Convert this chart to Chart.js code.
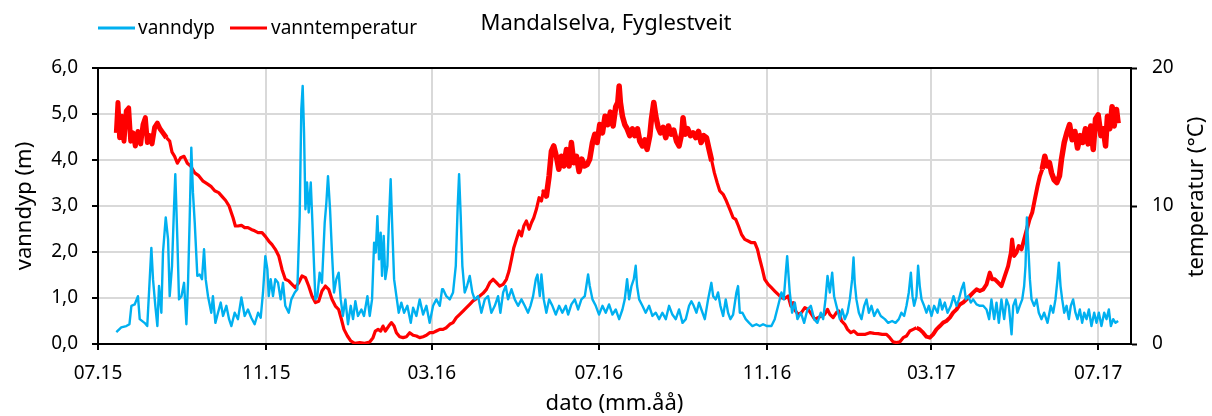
<!DOCTYPE html>
<html lang="no">
<head>
<meta charset="utf-8" />
<title>Mandalselva, Fyglestveit</title>
<script src="https://cdn.jsdelivr.net/npm/chart.js"></script>
<style>
  html, body { margin: 0; padding: 0; background: #fff; }
  #wrap { width: 1212px; height: 416px; }
</style>
</head>
<body>
<div id="wrap"><canvas id="chart" width="1212" height="416"></canvas></div>
<script>
// x = dager etter 01.07.2015
var tickDays = [0, 123, 244, 366, 489, 609, 731];
var tickLabels = ['07.15', '11.15', '03.16', '07.16', '11.16', '03.17', '07.17'];

// vanndyp (m)
var depthDay = [
  13.4,17,20.7,23,24.4,26.8,29.2,30.5,34,36,
  37.8,39,40.2,41.9,43.4,44.6,46.3,47.5,49.5,51.2,
  52.4,54.1,55.6,56.5,58,59.2,61,62.9,64.6,65.8,
  67,68.2,69.4,70.7,72.6,74.3,76,77.5,78.7,80.4,
  82.8,84,85.8,87.7,89.7,91.4,93.8,95.8,97.5,99.9,
  102.3,104.8,107.2,109.6,112,114.5,117,118.9,120.6,122.3,
  123.8,124.8,126.2,127.9,129.6,131.6,133.5,135.2,136.9,139.4,
  141.3,143.8,145.7,147.4,148.6,149.6,150.6,151.6,152.8,154,
  155.5,156.7,157.9,158.9,160.3,162,163.7,165.7,166.9,168.1,
  169.6,171,172.5,174.2,175.9,177.4,179,180.8,182.7,184.7,
  186.4,188.1,190,192.5,194.4,196.9,198.6,200.3,201.8,203,
  204.2,205.4,206.6,207.6,208.8,210,211.5,212.5,213.9,215.2,
  216.4,218.1,219.8,221.7,223.7,226.1,228.6,230.3,232.7,235.1,
  237.6,240,242.4,244.9,247.3,249.8,251.5,
  252.2,254.6,257.1,259.5,261.5,262.9,263.9,265.1,266.3,268,
  269.7,271.7,273.6,275.3,277.8,280.2,282.7,285.1,287.5,290,
  292.4,294.1,296.1,298,299.7,302.2,304.6,307,309.5,311.9,
  314.3,316.1,318,320,321.2,322.9,324.1,325.8,327.7,329.7,
  332.1,334.6,337,339.4,341.9,343.6,346,348.5,350.9,353.3,
  355.8,358.2,359.4,361.4,363.8,366.2,368.7,371.1,373.5,376,
  378.4,380.9,383.3,385,386.7,388.2,389.9,391.6,393,394,
  395.5,397.9,400.3,402.8,405.2,407.7,410.1,412.5,415,417.4,
  419.8,422.3,424.7,427.2,429.6,432,433.7,435.4,437.4,439.3,
  441,443.5,445.9,448.3,449.6,451.5,453.2,454.9,456.9,458.8,
  460.5,462.2,464.2,466.6,467.8,469.1,471,473.4,475.9,478.3,
  481.2,483.7,486.1,489,492.2,494.6,497.1,499.5,501.2,502.7,
  503.7,
  505.6,507.3,509.3,511.2,513.7,516.1,518.5,521,523.4,525.8,
  528.3,530,531.7,533.2,534.9,536.6,538,539.7,542.2,543.9,
  545.8,547.8,549.5,551.2,552.2,553.1,554.3,556.1,558,560,
  561.7,563.4,565.3,567.3,569.7,572.1,575.1,577.5,580.4,582.9,
  585.3,587.2,589.2,590.9,592.6,594.1,595.3,596.5,598.2,599.4,
  600.6,601.9,603.8,605.5,607.2,609.2,611.1,613.6,615.3,617,
  618.9,620.9,623.3,625.3,627.5,629.2,631.1,632.8,634.3,636,
  637.9,639.6,642.1,644.5,647,649.4,651.3,653,655,656.7,
  658.4,660.3,662.3,664,665.7,667.7,668.9,670.6,672,673.7,
  675.5,676.9,677.9,678.9,679.8,681.1,682.3,684.2,686,687.6,
  689.6,691.5,694,696.4,698.1,699.8,701.3,702.3,703.5,704.7,
  706.2,707.9,709.6,711,712.7,714.4,715.9,717.6,719.3,720.8,
  722.5,724.2,726.1,728.1,729.8,731.5,733.4,735.4,737.1,738.8,
  740.3,742,743.7,745.6
];
var depth = [
  0.26,0.36,0.39,0.43,0.83,0.86,1.04,0.54,0.46,0.39,
  1.41,2.09,1.41,0.83,0.39,1.26,0.68,1.99,2.75,2.28,
  1.04,1.7,3.0,3.69,2.28,0.97,1.04,1.33,0.43,1.33,
  2.71,4.27,3.29,2.64,1.48,1.51,1.41,2.06,1.41,1.04,
  0.68,1.04,0.46,0.68,0.9,0.61,0.83,0.54,0.39,0.68,
  0.54,1.01,0.61,0.75,0.57,0.43,0.68,0.57,1.12,1.91,
  1.62,1.04,1.41,1.04,1.41,1.33,0.97,1.33,0.83,0.68,
  0.97,1.12,1.19,2.78,5.1,5.61,4.59,2.93,3.51,2.86,
  3.51,2.64,1.7,0.97,1.04,1.55,1.33,2.64,3.07,3.65,
  2.93,1.99,1.12,1.41,1.55,0.97,0.61,0.97,0.43,0.83,
  0.54,0.93,0.61,0.75,0.61,1.04,0.61,0.97,2.2,1.99,
  2.78,1.84,2.42,1.48,2.35,1.41,1.7,2.57,3.58,2.42,
  1.41,1.04,0.68,0.9,0.68,0.83,0.46,0.79,0.61,0.97,
  0.64,0.83,0.46,0.83,0.97,0.83,1.19,
  1.19,1.04,0.97,1.12,1.7,3.0,3.69,2.78,1.7,1.12,
  1.26,1.48,1.12,0.97,1.04,0.68,0.97,1.04,0.68,0.83,
  1.04,0.68,1.12,1.26,0.97,1.19,0.97,0.83,0.97,0.83,
  0.68,0.83,1.04,1.41,1.51,1.04,1.51,0.97,0.68,0.97,
  0.83,0.64,0.83,0.68,0.83,0.64,0.86,0.97,0.75,0.97,
  1.04,1.51,1.26,0.97,0.83,0.64,0.83,0.68,0.86,0.64,
  0.75,0.54,0.75,0.97,1.41,0.97,1.26,1.41,1.7,1.26,
  0.97,0.83,0.68,0.83,0.61,0.68,0.54,0.68,0.54,0.83,
  0.64,0.54,0.75,0.46,0.54,0.83,0.93,0.83,0.68,0.9,
  0.75,0.54,0.97,1.33,1.04,0.97,1.12,0.83,0.61,0.97,
  0.68,0.54,0.64,1.12,1.26,0.68,0.68,0.54,0.46,0.39,
  0.43,0.39,0.43,0.39,0.39,0.54,0.83,1.12,0.97,1.55,
  1.91,
  1.12,0.68,0.9,0.54,0.68,0.46,0.75,0.83,0.54,0.46,
  0.68,0.54,0.97,1.48,1.12,1.55,1.04,0.83,0.54,0.75,
  0.54,0.68,0.97,1.41,1.88,1.33,0.97,0.68,0.54,0.83,
  0.97,0.68,0.83,0.61,0.75,0.61,0.54,0.46,0.5,0.46,
  0.54,0.68,0.61,0.83,1.12,1.55,1.04,0.83,1.04,1.7,
  1.26,0.97,0.83,0.68,0.83,0.61,0.83,0.68,0.97,0.75,
  0.9,0.68,0.83,1.04,0.83,0.97,1.19,1.33,0.97,1.04,
  0.9,0.97,0.86,0.83,0.83,0.75,0.54,0.97,0.54,0.9,
  0.46,0.97,0.54,0.97,0.83,0.21,0.83,0.97,0.68,0.83,
  0.97,1.26,1.7,2.75,2.2,1.41,0.97,0.83,0.97,0.68,
  0.54,0.68,0.46,0.83,0.68,0.97,1.41,1.77,1.26,0.97,
  0.68,0.83,0.54,0.83,0.97,0.68,0.54,0.75,0.46,0.68,
  0.54,0.75,0.39,0.68,0.46,0.68,0.39,0.68,0.54,0.75,
  0.39,0.54,0.46,0.5
];

// vanntemperatur (°C)
var tempDay = [
  13.4,14.6,15.8,17.5,19,20.7,22.4,23.9,25.6,27.3,
  29.2,31.2,32.9,34.6,36.1,37.8,39.5,41.4,43.4,45.3,
  47.5,50,52.4,54.1,56,58,60.4,62.9,65.3,67.7,
  70.7,73.6,76.8,79.9,82.8,85.3,88.2,90.6,93.3,95.8,
  97.5,98.7,100.4,102.3,104.8,107.2,109.6,112,114.5,117,
  119.9,122.3,124.8,127.2,129.6,132.1,134.5,136.9,139.4,141.8,
  144.2,146.7,149.1,151.6,154,156.4,158.9,161.3,163.7,166.2,
  168.6,171,173.5,175.9,177.9,179.8,182.3,184.7,187.6,191.3,
  194.9,198.6,201,202.7,204.7,206.6,208.3,210,212.5,214.4,
  216.4,218.1,220.5,223,225.4,227.8,230.3,232.7,235.1,237.6,
  240,242.4,244.9,247.3,249.8,
  252.2,254.6,257.1,259.5,261.9,264.4,266.8,269.3,271.7,274.1,
  276.6,279,281.4,283.9,286.3,288.8,291.2,293.6,296.1,298.5,
  300.4,302.2,303.9,305.8,307.8,309.5,311.2,313.1,315.1,316.8,
  318.5,320.4,322.4,324.1,325.8,327.7,329.7,331.4,333.1,335,
  336.8,338.7,340.4,342.4,344.3,346,347.7,349.7,351.6,353.6,
  355.5,357.5,359.4,361.4,363.1,364.8,366.7,368.7,370.6,372.6,
  374.5,376.5,378.4,379.9,380.9,381.8,383.3,385,386.7,388.7,
  390.6,392.3,394.3,396,397.9,399.6,401.3,403.3,404.5,406.2,
  407.7,409.4,411.1,413,415,416.9,418.9,420.8,422.8,424.7,
  426.7,427.6,429.1,431,433,434.9,436.9,438.9,440.8,442.7,
  444.7,446.6,448.6,450.5,452.5,454.4,456.9,459.3,461.8,464.2,
  466.1,468.1,470.3,472.7,475.2,477.6,480,482,483.7,485.6,
  487.3,489.8,492.2,494.6,497.1,499.5,501.9,
  504.4,506.4,508.1,509.8,511.7,514.1,516.6,519,521.5,523.9,
  526.3,528.8,531.2,533.2,534.9,537.3,539.7,541.4,543.4,545.8,
  547.8,550.2,552.6,555.1,558,560.9,564.1,567.3,570.2,573.1,
  576.3,578.7,581.2,583.6,586,588.5,590.9,593.3,595.8,598.2,
  600.6,603.1,605.5,608,610.4,612.8,615.3,617.7,620.1,622.6,
  625,627.5,629.9,632.3,634.8,637.2,639.6,642.1,644.5,647,
  649.4,651.8,653.5,655.5,657.9,660.3,662.8,665.2,667.2,668.1,
  669.6,671.3,673,675,676.9,678.9,680.8,682.8,684.7,686.7,
  688.4,690.1,692,693.7,695.4,696.9,698.8,700.8,702.7,704.2,
  706.2,708.1,710.1,712,714,715.9,717.9,719.8,721.7,723.7,
  725.6,727.4,729.1,731,733,734.7,736.4,737.8,739.5,741.2,
  742.7,744.4,745.6
];
var temp = [
  15.3,17.5,14.95,16.5,14.7,16.9,17.1,14.7,15.3,14.35,
  15.4,14.5,15.9,16.4,14.6,15.1,14.5,15.7,16.0,15.6,
  15.3,14.95,14.7,13.9,13.6,13.1,13.5,13.6,13.1,12.9,
  12.4,12.2,11.8,11.6,11.4,11.1,10.97,10.7,10.4,10.0,
  9.5,9.15,8.55,8.55,8.6,8.43,8.43,8.3,8.2,8.07,
  8.07,7.8,7.46,7.2,6.86,6.38,5.4,4.69,4.57,4.32,
  4.08,4.44,4.93,4.81,4.2,3.48,3.0,3.1,3.84,4.2,
  3.96,3.24,2.75,2.5,1.79,1.06,0.58,0.22,0.05,0.1,
  0.05,0.15,0.46,0.94,1.06,0.94,1.3,0.94,1.3,1.55,
  1.3,0.82,0.53,0.46,0.53,0.82,0.63,0.58,0.46,0.53,
  0.63,0.82,0.82,0.94,1.06,
  1.06,1.18,1.43,1.55,1.91,2.15,2.39,2.63,2.87,3.12,
  3.29,3.48,3.67,3.96,4.44,4.69,4.44,4.2,4.32,4.69,
  5.29,6.14,6.98,7.58,8.19,7.83,8.55,8.91,8.31,8.79,
  9.15,9.76,10.6,10.36,11.2,10.72,12.17,13.98,14.35,13.6,
  12.66,13.6,12.9,14.1,12.9,14.6,13.14,13.6,12.5,13.4,
  12.9,13.0,13.4,14.6,15.2,14.6,15.9,15.3,16.5,15.9,
  16.8,15.8,17.2,17.5,18.7,17.5,16.5,15.9,15.6,15.1,
  15.6,15.1,15.6,14.7,14.35,14.8,14.1,15.1,16.3,17.5,
  16.5,15.7,15.3,15.7,14.95,15.8,15.2,15.5,14.7,14.35,
  15.3,16.4,15.2,15.6,15.1,15.3,14.95,15.4,14.6,15.1,
  14.95,14.1,13.26,12.4,11.7,11.1,10.85,10.36,9.76,9.15,
  9.03,8.55,7.95,7.58,7.46,7.34,7.34,6.86,6.14,5.41,
  4.69,4.32,4.08,3.84,3.6,3.36,3.29,
  3.48,2.75,3.0,2.39,2.15,2.27,2.63,2.51,2.15,1.79,
  1.91,2.03,2.15,2.51,2.15,1.91,2.27,2.39,1.67,1.43,
  1.06,0.82,0.94,0.7,0.7,0.7,0.82,0.77,0.75,0.7,
  0.7,0.46,0.15,0.1,0.15,0.46,0.58,0.94,1.06,1.18,
  1.06,0.82,0.53,0.46,0.7,1.06,1.3,1.55,1.67,1.91,
  2.27,2.51,2.87,3.0,3.24,3.48,3.72,3.96,3.84,3.96,
  4.32,5.17,4.69,4.69,4.44,4.2,4.93,5.65,6.62,7.58,
  6.38,6.62,7.1,6.86,7.58,8.31,9.03,9.52,10.48,11.45,
  12.17,12.66,13.6,12.9,13.14,12.4,11.9,11.7,12.17,13.4,
  14.6,15.3,15.9,14.8,15.4,14.2,15.1,14.6,15.6,14.5,
  15.8,14.1,16.3,16.6,15.1,15.6,14.35,16.5,15.6,17.2,
  15.8,17.0,16.0
];

var BLUE = '#00B0F0';
var RED = '#FF0000';
var GRID = '#d9d9d9';
var FONT = "'Noto Sans', sans-serif";

// perioder der døgnvariasjonen gjør den røde linja til et bredt bånd: [fra, til, strekbredde]
var RED_BAND = [[13, 50, 5], [325, 448, 5.5], [598, 690, 4], [690, 746, 5.5]];

Chart.defaults.font.family = FONT;
Chart.defaults.color = '#000';

// legende i samme linje som tittelen, og høyre aksetittel lest nedenfra og opp
var extras = {
  id: 'extras',
  afterDraw: function (chart) {
    var ctx = chart.ctx;
    var pos = [[98, 135, 138], [230, 267, 271]];
    ctx.save();
    ctx.font = '19px ' + FONT;
    ctx.textBaseline = 'middle';
    chart.data.datasets.forEach(function (ds, i) {
      var p = pos[i];
      ctx.strokeStyle = ds.borderColor;
      ctx.lineWidth = 3;
      ctx.beginPath();
      ctx.moveTo(p[0], 28);
      ctx.lineTo(p[1], 28);
      ctx.stroke();
      ctx.fillStyle = '#000';
      ctx.fillText(ds.label, p[2], 29);
    });
    ctx.font = '22px ' + FONT;
    ctx.textAlign = 'center';
    ctx.translate(1197, 197);
    ctx.rotate(-Math.PI / 2);
    ctx.fillText('temperatur (°C)', 0, 0);
    ctx.restore();
  }
};

function pts(xs, ys) {
  return xs.map(function (x, i) { return { x: x, y: ys[i] }; });
}

new Chart(document.getElementById('chart').getContext('2d'), {
  type: 'line',
  data: {
    datasets: [
      { label: 'vanndyp', data: pts(depthDay, depth), yAxisID: 'y',
        borderColor: BLUE, backgroundColor: BLUE, borderWidth: 2.4 },
      { label: 'vanntemperatur', data: pts(tempDay, temp), yAxisID: 'y1',
        borderColor: RED, backgroundColor: RED, borderWidth: 3.2,
        segment: {
          borderWidth: function (c) {
            var x = c.p0.parsed.x;
            for (var i = 0; i < RED_BAND.length; i++) {
              if (x >= RED_BAND[i][0] && x < RED_BAND[i][1]) return RED_BAND[i][2];
            }
            return undefined;
          }
        } }
    ]
  },
  options: {
    responsive: false,
    animation: false,
    devicePixelRatio: 1,
    layout: { padding: 0 },
    elements: { point: { radius: 0 }, line: { tension: 0, borderJoinStyle: 'round' } },
    plugins: {
      legend: { display: false },
      tooltip: { enabled: false },
      title: {
        display: true, text: 'Mandalselva, Fyglestveit', color: '#000',
        font: { size: 22, weight: 'normal', lineHeight: 1 },
        padding: { top: 13, bottom: 33 }
      }
    },
    scales: {
      x: {
        type: 'linear', min: 0, max: 755,
        afterBuildTicks: function (s) { s.ticks = tickDays.map(function (v) { return { value: v }; }); },
        afterFit: function (s) { s.height = 72; },
        ticks: { autoSkip: false, maxRotation: 0, padding: 12, font: { size: 19 },
          callback: function (v, i) { return tickLabels[i]; } },
        grid: { lineWidth: 2, tickLength: 6, tickWidth: 2, tickColor: '#000',
          color: function (c) { return c.tick && c.tick.value === 0 ? 'rgba(0,0,0,0)' : GRID; } },
        border: { color: '#000', width: 2 },
        title: { display: true, text: 'dato (mm.åå)', font: { size: 22, lineHeight: 1 }, padding: { top: 0, bottom: 1 } }
      },
      y: {
        position: 'left', min: 0, max: 6,
        afterFit: function (s) { s.width = 98; },
        ticks: { stepSize: 1, padding: 14, font: { size: 19 },
          callback: function (v) { return v.toFixed(1).replace('.', ','); } },
        grid: { lineWidth: 2, tickLength: 6, tickWidth: 2, tickColor: '#000',
          color: function (c) {
            if (!c.tick) return GRID;
            if (c.tick.value === 6) return '#000';
            if (c.tick.value === 0) return 'rgba(0,0,0,0)';
            return GRID;
          } },
        border: { color: '#000', width: 2 },
        title: { display: true, text: 'vanndyp (m)', font: { size: 22, lineHeight: 1 }, padding: { top: 14 } }
      },
      y1: {
        position: 'right', min: 0, max: 20,
        afterFit: function (s) { s.width = 81; },
        ticks: { stepSize: 10, padding: 15, font: { size: 19 } },
        grid: { drawOnChartArea: false, tickLength: 6, tickWidth: 2, tickColor: '#000' },
        border: { color: '#000', width: 2 }
      }
    }
  },
  plugins: [extras]
});
</script>
</body>
</html>
